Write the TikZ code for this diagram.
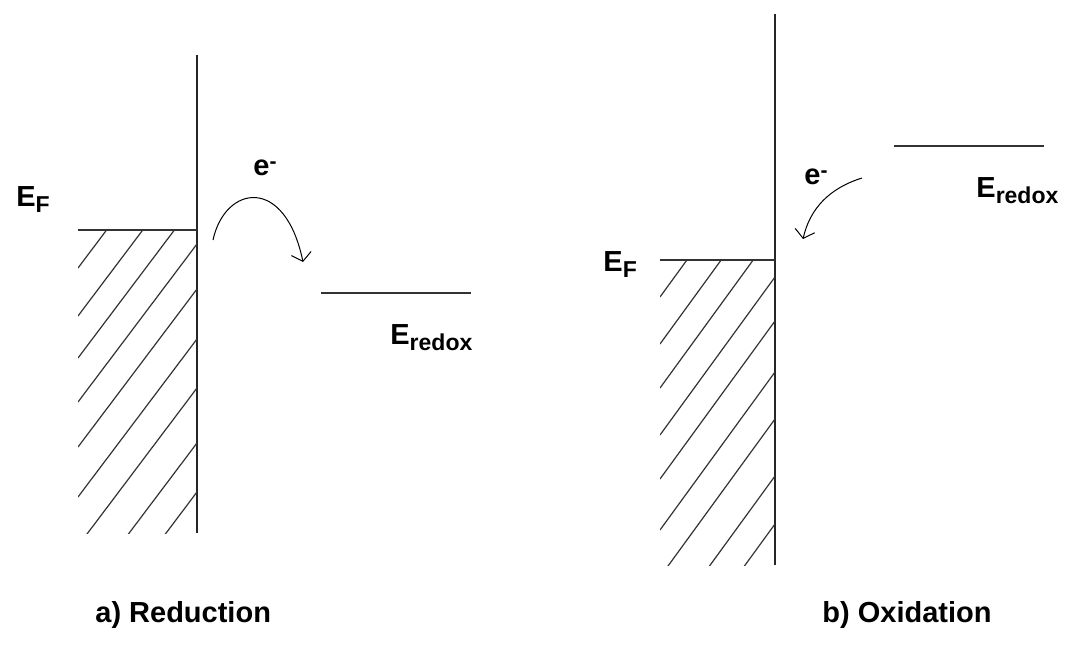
\documentclass[tikz,border=0pt]{standalone}
\usepackage{fontspec}
\setmainfont{Liberation Sans}
\usetikzlibrary{arrows.meta}
\newcommand{\subtxt}[1]{\raisebox{-2.8pt}{\fontsize{11.5}{13}\selectfont #1}}
\newcommand{\suptxt}[1]{\raisebox{3.5pt}{\fontsize{10.5}{12}\selectfont #1}}
\tikzset{
	wall/.style ={line width=1.1pt, black!85},
	level/.style={line width=1.3pt, black!80},
	hatch/.style={line width=0.6pt, black!80},
	hop/.style  ={-{Straight Barb[length=4pt, width=10pt]}, line width=0.5pt},
	lbl/.style  ={anchor=base west, inner sep=0pt, font=\fontsize{14.5}{17}\selectfont\bfseries},
}
\begin{document}
\begin{tikzpicture}[x=0.5pt, y=-0.5pt]
	\useasboundingbox (0,0) rectangle (1065,657);
	% a) reduction
	\draw[wall] (197,55) -- (197,533);
	\draw[level] (78,230) -- (197,230);
	\begin{scope}
		\clip (78,230) rectangle (197,533);
		\foreach \y in {268,316,358,402,447,497,546,601,650}
			\draw[hatch] (78,\y) -- ++(119,-158);
	\end{scope}
	\draw[level] (321,293) -- (471,293);
	\coordinate (hopStartA) at (213,240);
	\coordinate (hopEndA) at (303,262);
	\draw[hop] (hopStartA) .. controls (225,185) and (285,175) .. (hopEndA);
	\node[lbl] (efA) at (16,207) {E\subtxt{F}};
	\node[lbl] (elA) at (253,176) {e\suptxt{-}};
	\node[lbl] (redoxA) at (390,345) {E\subtxt{redox}};
	\node[lbl] (capA) at (95,622) {a) Reduction};
	% b) oxidation
	\draw[wall] (775,14) -- (775,565);
	\draw[level] (660,260) -- (775,260);
	\begin{scope}
		\clip (660,260) rectangle (775,565);
		\foreach \y in {297,344,388,435,479,530,577,634,682}
			\draw[hatch] (660,\y) -- ++(115,-158);
	\end{scope}
	\draw[level] (894,146) -- (1044,146);
	\coordinate (hopStartB) at (862,178);
	\coordinate (hopEndB) at (803,239);
	\draw[hop] (hopStartB) .. controls (830,188) and (810,208) .. (hopEndB);
	\node[lbl] (efB) at (603,272) {E\subtxt{F}};
	\node[lbl] (elB) at (804,185) {e\suptxt{-}};
	\node[lbl] (redoxB) at (976,198) {E\subtxt{redox}};
	\node[lbl] (capB) at (822,622) {b) Oxidation};
\end{tikzpicture}
\end{document}
